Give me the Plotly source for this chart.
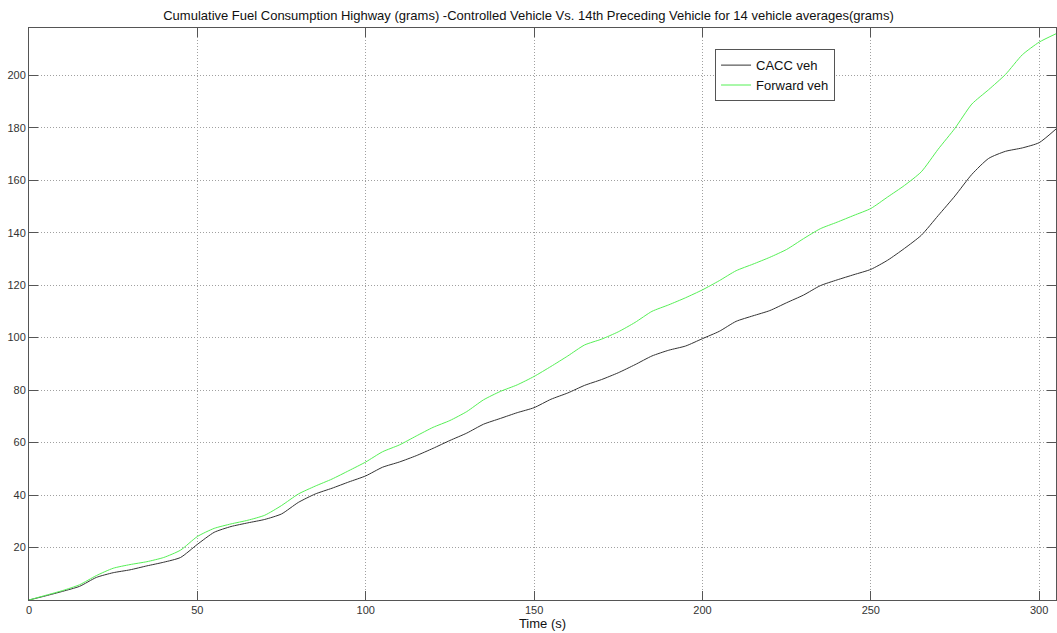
import plotly.graph_objects as go

time_s = list(range(0, 306, 5))

cacc_veh = [0, 1.6, 3.3, 5.2, 8.6, 10.4, 11.5, 13.0, 14.4, 16.2,
            21.2, 25.8, 28.0, 29.4, 30.7, 32.8, 37.2, 40.4, 42.6, 45.0,
            47.3, 50.6, 52.6, 55.0, 57.8, 60.8, 63.6, 67.0, 69.2, 71.4,
            73.3, 76.5, 78.9, 81.8, 84.0, 86.6, 89.7, 93.0, 95.2, 96.8,
            99.6, 102.4, 106.2, 108.3, 110.3, 113.3, 116.2, 119.8, 122.0, 124.0,
            126.0, 129.5, 134.0, 139.0, 146.5, 154.0, 162.2, 168.3, 171.0, 172.3,
            174.3, 179.5]

forward_veh = [0, 1.8, 3.6, 5.8, 9.3, 12.1, 13.5, 14.6, 16.2, 19.0,
               24.2, 27.3, 29.0, 30.4, 32.3, 36.0, 40.4, 43.4, 46.1, 49.3,
               52.6, 56.5, 59.1, 62.5, 65.8, 68.4, 71.8, 76.3, 79.5, 82.0,
               85.2, 89.0, 93.0, 97.2, 99.4, 102.2, 105.8, 110.0, 112.5, 115.2,
               118.2, 121.7, 125.5, 128.0, 130.6, 133.6, 137.7, 141.5, 144.0, 146.6,
               149.2, 153.6, 158.0, 163.2, 171.8, 179.8, 189.0, 194.5, 200.3, 207.8,
               212.6, 215.8]

x_ticks = [0, 50, 100, 150, 200, 250, 300]
y_ticks = [20, 40, 60, 80, 100, 120, 140, 160, 180, 200]

fig = go.Figure()
fig.add_trace(go.Scatter(x=time_s, y=cacc_veh, mode="lines", name="CACC veh",
                         line=dict(color="#333333", width=1, shape="spline", smoothing=0.6)))
fig.add_trace(go.Scatter(x=time_s, y=forward_veh, mode="lines", name="Forward veh",
                         line=dict(color="#55f055", width=1, shape="spline", smoothing=0.6)))

axis_common = dict(
    showline=True, linecolor="#555555", linewidth=1, mirror="ticks",
    ticks="inside", ticklen=9, tickcolor="#555555",
    showgrid=True, gridcolor="#a0a0a0", griddash="1px,2px", gridwidth=1,
    zeroline=False,
    tickfont=dict(family="Liberation Sans, Arial", size=11, color="#333333"),
)

fig.update_layout(
    width=1057, height=633,
    margin=dict(l=29, r=1, t=28, b=33),
    paper_bgcolor="white", plot_bgcolor="white",
    title=dict(text="Cumulative Fuel Consumption Highway (grams) -Controlled Vehicle Vs. 14th Preceding Vehicle for 14 vehicle averages(grams)",
               x=0.5, xanchor="center", y=0.976, yanchor="middle",
               font=dict(family="Liberation Sans, Arial", size=13, color="#111111")),
    xaxis=dict(range=[0, 305], tickvals=x_ticks,
               title=dict(text="Time (s)", standoff=1,
                          font=dict(family="Liberation Sans, Arial", size=13, color="#111111")),
               **axis_common),
    yaxis=dict(range=[0, 218], tickvals=y_ticks, **axis_common),
    legend=dict(x=0.668, y=0.963, xanchor="left", yanchor="top",
                bgcolor="white", bordercolor="#555555", borderwidth=1,
                font=dict(family="Liberation Sans, Arial", size=13, color="#111111"),
                itemwidth=30, tracegroupgap=0),
    showlegend=True,
)

fig.write_html("out.html", config={"displayModeBar": False},
               post_script="document.body.style.margin='0';document.body.style.padding='0';")
